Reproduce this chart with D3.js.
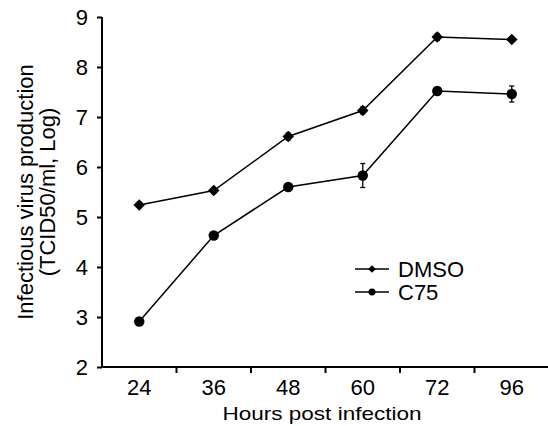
<!DOCTYPE html>
<html>
<head>
<meta charset="utf-8">
<script src="https://cdn.jsdelivr.net/npm/d3@7"></script>
<style>
  body { margin: 0; background: #fff; }
  text { font-family: "Liberation Sans", Arial, sans-serif; fill: #000; }
</style>
</head>
<body>
<div id="chart"></div>
<script>
// data
var hours = ["24", "36", "48", "60", "72", "96"];
var dmso = [5.24, 5.53, 6.61, 7.13, 8.60, 8.55];
var dmsoErr = [0.05, 0.06, 0.07, 0.07, 0.07, 0.03];
var c75 = [2.91, 4.63, 5.60, 5.83, 7.52, 7.46];
var c75Err = [0.06, 0.06, 0.03, 0.24, 0.03, 0.16];
var yTicks = [2, 3, 4, 5, 6, 7, 8, 9];

var W = 548, H = 426;
var margin = { top: 17, right: 0, bottom: 59, left: 102 };

var svg = d3.select("#chart").append("svg")
    .attr("width", W)
    .attr("height", H);

var x = d3.scaleBand()
    .domain(hours)
    .range([margin.left, margin.left + 74.5 * hours.length]);

var y = d3.scaleLinear()
    .domain([2, 9])
    .range([H - margin.bottom, margin.top]);

// x axis, ticks sit between the categories
var xAxis = svg.append("g")
    .attr("transform", "translate(0," + y(2) + ")");
xAxis.append("line")
    .attr("x1", margin.left - 1).attr("x2", W)
    .attr("stroke", "#000").attr("stroke-width", 2);
xAxis.selectAll(".tk")
    .data(hours.slice(1))
    .enter().append("line")
    .attr("x1", function (d) { return x(d); })
    .attr("x2", function (d) { return x(d); })
    .attr("y1", 0).attr("y2", 6)
    .attr("stroke", "#000").attr("stroke-width", 2);
xAxis.selectAll(".lb")
    .data(hours)
    .enter().append("text")
    .attr("x", function (d) { return x(d) + x.bandwidth() / 2; })
    .attr("y", 28)
    .attr("text-anchor", "middle")
    .style("font-size", "22px")
    .text(function (d) { return d; });

var yAxis = svg.append("g")
    .attr("transform", "translate(" + margin.left + ",0)")
    .call(d3.axisLeft(y).tickValues(yTicks).tickSize(5).tickPadding(9).tickFormat(d3.format("d")));
yAxis.select(".domain").attr("stroke-width", 2).attr("d", "M0," + y(9) + "V" + (y(2) + 1));
yAxis.selectAll("line").attr("stroke-width", 2);
yAxis.selectAll("text").style("font-size", "22px").style("font-family", "Liberation Sans, Arial, sans-serif");

// axis titles
svg.append("text")
    .attr("x", 322).attr("y", 420)
    .attr("text-anchor", "middle")
    .attr("textLength", 199)
    .attr("lengthAdjust", "spacingAndGlyphs")
    .style("font-size", "19px")
    .text("Hours post infection");

var yt = svg.append("text")
    .attr("transform", "translate(33," + ((y(2) + y(9)) / 2) + ") rotate(-90)")
    .attr("text-anchor", "middle")
    .style("font-size", "22px");
yt.append("tspan").attr("x", 0).attr("dy", 0).text("Infectious virus production");
yt.append("tspan").attr("x", 0).attr("dy", 22).text("(TCID50/ml, Log)");

// series
var series = [
    { name: "DMSO", values: dmso, err: dmsoErr, shape: d3.symbolDiamond2, size: 85 },
    { name: "C75", values: c75, err: c75Err, shape: d3.symbolCircle, size: 85 }
];

var cx = function (i) { return x(hours[i]) + x.bandwidth() / 2; };

var line = d3.line()
    .x(function (d, i) { return cx(i); })
    .y(function (d) { return y(d); });

series.forEach(function (s) {
    var g = svg.append("g");
    g.append("path")
        .attr("d", line(s.values))
        .attr("fill", "none")
        .attr("stroke", "#000")
        .attr("stroke-width", 1.5);

    s.values.forEach(function (v, i) {
        var e = s.err[i];
        g.append("line")
            .attr("x1", cx(i)).attr("x2", cx(i))
            .attr("y1", y(v - e)).attr("y2", y(v + e))
            .attr("stroke", "#000").attr("stroke-width", 1.3);
        [v - e, v + e].forEach(function (c) {
            g.append("line")
                .attr("x1", cx(i) - 2.5).attr("x2", cx(i) + 2.5)
                .attr("y1", y(c)).attr("y2", y(c))
                .attr("stroke", "#000").attr("stroke-width", 1.3);
        });
        g.append("path")
            .attr("transform", "translate(" + cx(i) + "," + y(v) + ")")
            .attr("d", d3.symbol().type(s.shape).size(s.size)())
            .attr("fill", "#000");
    });
});

// legend
var legend = svg.selectAll(".legend")
    .data(series)
    .enter().append("g")
    .attr("transform", function (d, i) { return "translate(355," + (269 + i * 23) + ")"; });
legend.append("line")
    .attr("x1", 0).attr("x2", 34)
    .attr("stroke", "#000").attr("stroke-width", 1.5);
legend.append("path")
    .attr("transform", "translate(17,0)")
    .attr("d", function (d) { return d3.symbol().type(d.shape).size(d.size * 0.45)(); })
    .attr("fill", "#000");
legend.append("text")
    .attr("x", 43).attr("y", 8)
    .style("font-size", "22px")
    .text(function (d) { return d.name; });
</script>
</body>
</html>
